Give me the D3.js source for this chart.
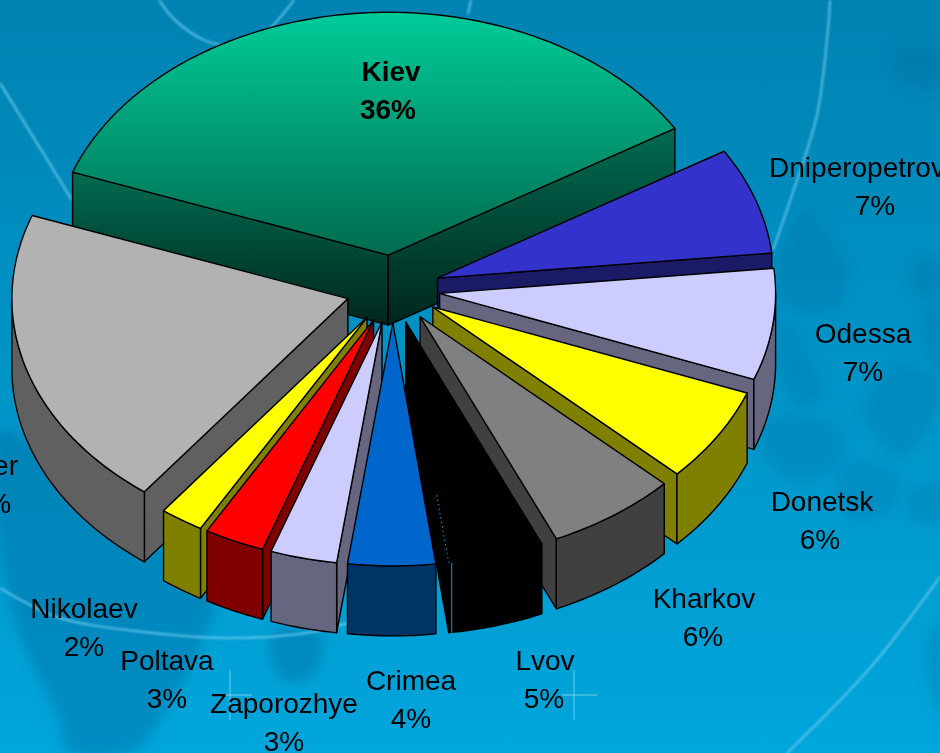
<!DOCTYPE html>
<html>
<head>
<meta charset="utf-8">
<script src="https://cdn.jsdelivr.net/npm/d3@7/dist/d3.min.js"></script>
<style>
  html, body { margin: 0; padding: 0; background: #0095c8; overflow: hidden; }
  svg { display: block; font-family: "Liberation Sans", Arial, sans-serif; }
</style>
</head>
<body>
<svg id="chart" width="940" height="753" viewBox="0 0 940 753"></svg>
<script>
// data (slice sizes from the drawn angles, labels as printed)
const cities = ['Kiev', 'Dniperopetrovsk', 'Odessa', 'Donetsk', 'Kharkov', 'Lvov', 'Crimea', 'Zaporozhye', 'Poltava', 'Nikolaev', 'Other'];
const shares = [35.7, 7.1, 7.4, 6.3, 6.3, 4.6, 4.2, 3.2, 2.9, 2.1, 20.2];
const printed = ['36%', '7%', '7%', '6%', '6%', '5%', '4%', '3%', '3%', '2%', '20%'];

const topColors = ['#00cc99', '#3333cc', '#ccccff', '#ffff00', '#808080', '#000000', '#0066cc', '#ccccff', '#ff0000', '#ffff00', '#b2b2b2'];
const wallColors = ['#006b50', '#1a1a66', '#666680', '#808000', '#404040', '#000000', '#003366', '#666680', '#800000', '#808000', '#606060'];

const width = 940, height = 753;
const center = { x: 393, y: 289 };
const radius = 336, tilt = 0.723, depth = 70, explode = 47;
const deg = Math.PI / 180;

const svg = d3.select('#chart');
const defs = svg.append('defs');

function vGradient(id, from, to) {
  const g = defs.append('linearGradient').attr('id', id).attr('x1', 0).attr('y1', 0).attr('x2', 0).attr('y2', 1);
  g.append('stop').attr('offset', '0%').attr('stop-color', from);
  g.append('stop').attr('offset', '100%').attr('stop-color', to);
}
vGradient('bg', '#0082b2', '#00a6dc');
vGradient('kievTop', '#00cc99', '#006b50');
vGradient('kievWall', '#006b50', '#00261d');

defs.append('filter').attr('id', 'soft').attr('x', '-20%').attr('y', '-20%').attr('width', '140%').attr('height', '140%')
  .append('feGaussianBlur').attr('stdDeviation', 6);
defs.append('filter').attr('id', 'glow').attr('x', '-10%').attr('y', '-10%').attr('width', '120%').attr('height', '120%')
  .append('feGaussianBlur').attr('stdDeviation', 0.8);
defs.append('filter').attr('id', 'textBlur')
  .append('feGaussianBlur').attr('stdDeviation', 0.4);

// Background
svg.append('rect').attr('width', width).attr('height', height).attr('fill', 'url(#bg)');

const leftBlobs = [
  [[0, 430], [120, 520], [214, 590], [203, 640], [165, 713], [130, 753], [69, 753], [57, 717], [19, 633], [0, 550]],
  [[272, 633], [321, 633], [316, 672], [300, 682], [278, 676]]
];
const rightBlobs = [
  [[803, 211], [830, 240], [847, 269], [837, 308], [800, 312], [777, 288]],
  [[783, 322], [810, 360], [823, 395], [800, 408], [780, 375]],
  [[763, 425], [800, 415], [843, 435], [835, 470], [790, 480], [765, 455]],
  [[863, 410], [900, 365], [940, 385], [930, 425], [900, 457], [878, 440]],
  [[840, 470], [865, 461], [900, 480], [890, 510], [850, 519]],
  [[910, 490], [945, 485], [945, 520], [910, 520]],
  [[927, 640], [945, 625], [945, 720], [932, 700]],
  [[913, 262], [945, 260], [945, 298], [916, 296]],
  [[925, 310], [945, 308], [945, 375], [928, 360]],
  [[890, 53], [945, 50], [945, 85], [900, 82]]
];
const blobLine = d3.line().curve(d3.curveCatmullRomClosed);
[[leftBlobs, 0.34], [rightBlobs, 0.2]].forEach(([shapes, alpha]) => {
  svg.append('g').attr('filter', 'url(#soft)')
    .selectAll('path').data(shapes).join('path')
    .attr('d', blobLine)
    .attr('fill', '#005f94')
    .attr('opacity', alpha);
});

const swooshes = [
  [[830, 0], [828, 29], [817, 115], [793, 192], [773, 250]],
  [[940, 577], [870, 668], [787, 753]],
  [[159, 0], [175, 20], [204, 40], [228, 45], [262, 35], [294, 0]],
  [[0, 83], [32, 135], [72, 200]],
  [[471, 0], [468, 14]],
  [[0, 588], [57, 617], [153, 633], [230, 638], [306, 633], [348, 623]]
];
const swooshLine = d3.line().curve(d3.curveCatmullRom);
svg.append('g').attr('filter', 'url(#glow)')
  .selectAll('path').data(swooshes).join('path')
  .attr('d', swooshLine)
  .attr('fill', 'none')
  .attr('stroke', '#6fcdee')
  .attr('stroke-width', 2.4)
  .attr('opacity', 0.7);

const sparkles = [[[230, 670], [230, 720]], [[214, 695], [252, 695]], [[574, 670], [574, 720]], [[562, 695], [597, 695]]];
svg.append('g').selectAll('path').data(sparkles).join('path')
  .attr('d', d3.line())
  .attr('stroke', '#8fdcf5')
  .attr('stroke-width', 1.4)
  .attr('opacity', 0.55);

// Pie, clockwise from the top like d3.arc
const pie = d3.pie().sort(null).startAngle(-70 * deg).endAngle(290 * deg);
const slices = pie(shares).map((s, i) => {
  const mid = (s.startAngle + s.endAngle) / 2;
  return {
    ...s,
    i,
    mid,
    apex: {
      x: center.x + explode * Math.sin(mid),
      y: center.y - explode * Math.cos(mid) * tilt
    }
  };
});

// Painter's order: far slices first
const drawOrder = d3.sort(slices, s => -Math.cos(s.mid));

const rim = (s, a, z = 0) => [
  s.apex.x + radius * Math.sin(a),
  s.apex.y - radius * tilt * Math.cos(a) + z
];
const arcPoints = (s, a0, a1, z = 0) => {
  const n = Math.max(2, Math.ceil((a1 - a0) / deg));
  return d3.range(n + 1).map(k => rim(s, a0 + (a1 - a0) * k / n, z));
};
const closed = d3.line().curve(d3.curveLinearClosed);

const pieG = svg.append('g').attr('stroke', '#000').attr('stroke-width', 1.4).attr('stroke-linejoin', 'round');

drawOrder.forEach(s => {
  const g = pieG.append('g').attr('class', 'slice');
  const top = s.i === 0 ? 'url(#kievTop)' : topColors[s.i];
  const wall = s.i === 0 ? 'url(#kievWall)' : wallColors[s.i];
  const hub = [s.apex.x, s.apex.y];
  const hubLow = [s.apex.x, s.apex.y + depth];

  // radial walls: only the ones facing the viewer
  if (Math.sin(s.startAngle) < 0) {
    g.append('path').attr('fill', wall)
      .attr('d', closed([hub, rim(s, s.startAngle), rim(s, s.startAngle, depth), hubLow]));
  }
  if (Math.sin(s.endAngle) > 0) {
    g.append('path').attr('fill', wall)
      .attr('d', closed([hub, rim(s, s.endAngle), rim(s, s.endAngle, depth), hubLow]));
  }

  // outer wall: front half of the rim
  const a0 = Math.max(s.startAngle, 90 * deg);
  const a1 = Math.min(s.endAngle, 270 * deg);
  if (a1 > a0) {
    g.append('path').attr('fill', wall)
      .attr('d', closed([...arcPoints(s, a0, a1), ...arcPoints(s, a0, a1, depth).reverse()]));
  }

  g.append('path').attr('fill', top)
    .attr('d', closed([hub, ...arcPoints(s, s.startAngle, s.endAngle)]));

  // the black slice shows a sliver of background between its walls
  if (cities[s.i] === 'Lvov') {
    const inner = [s.apex.x + radius * 0.72 * Math.sin(s.endAngle), s.apex.y - radius * 0.72 * tilt * Math.cos(s.endAngle)];
    const corner = rim(s, s.endAngle);
    g.append('path').attr('d', d3.line()([inner, corner]))
      .attr('fill', 'none').attr('stroke', '#00a3d8').attr('stroke-width', 1).attr('stroke-dasharray', '1.5 3');
    const low = rim(s, s.endAngle, depth);
    g.append('path').attr('d', d3.line()([[corner[0] + 3, corner[1]], [low[0] + 3, low[1]]]))
      .attr('fill', 'none').attr('stroke', '#00a3d8').attr('stroke-width', 1);
  }
});

// Labels: [name x, percent x, name baseline]; the chart runs off the frame on both sides
const labelSpots = [
  [391, 388, 81],
  [871, 875, 177],
  [863, 863, 343],
  [822, 820, 511],
  [704, 703, 608],
  [545, 544, 670],
  [411, 411, 690],
  [284, 284, 713],
  [167, 167, 670],
  [84, 84, 618],
  [-17, -17, 475]
];
const lineGap = 38;

const labels = svg.append('g')
  .attr('font-size', 28)
  .attr('fill', '#000')
  .attr('text-anchor', 'middle')
  .attr('filter', 'url(#textBlur)');

cities.forEach((name, i) => {
  const [xName, xPct, y] = labelSpots[i];
  const weight = i === 0 ? 700 : 400;
  labels.append('text').attr('x', xName).attr('y', y).attr('font-weight', weight).text(name);
  labels.append('text').attr('x', xPct).attr('y', y + lineGap).attr('font-weight', weight).text(printed[i]);
});
</script>
</body>
</html>
